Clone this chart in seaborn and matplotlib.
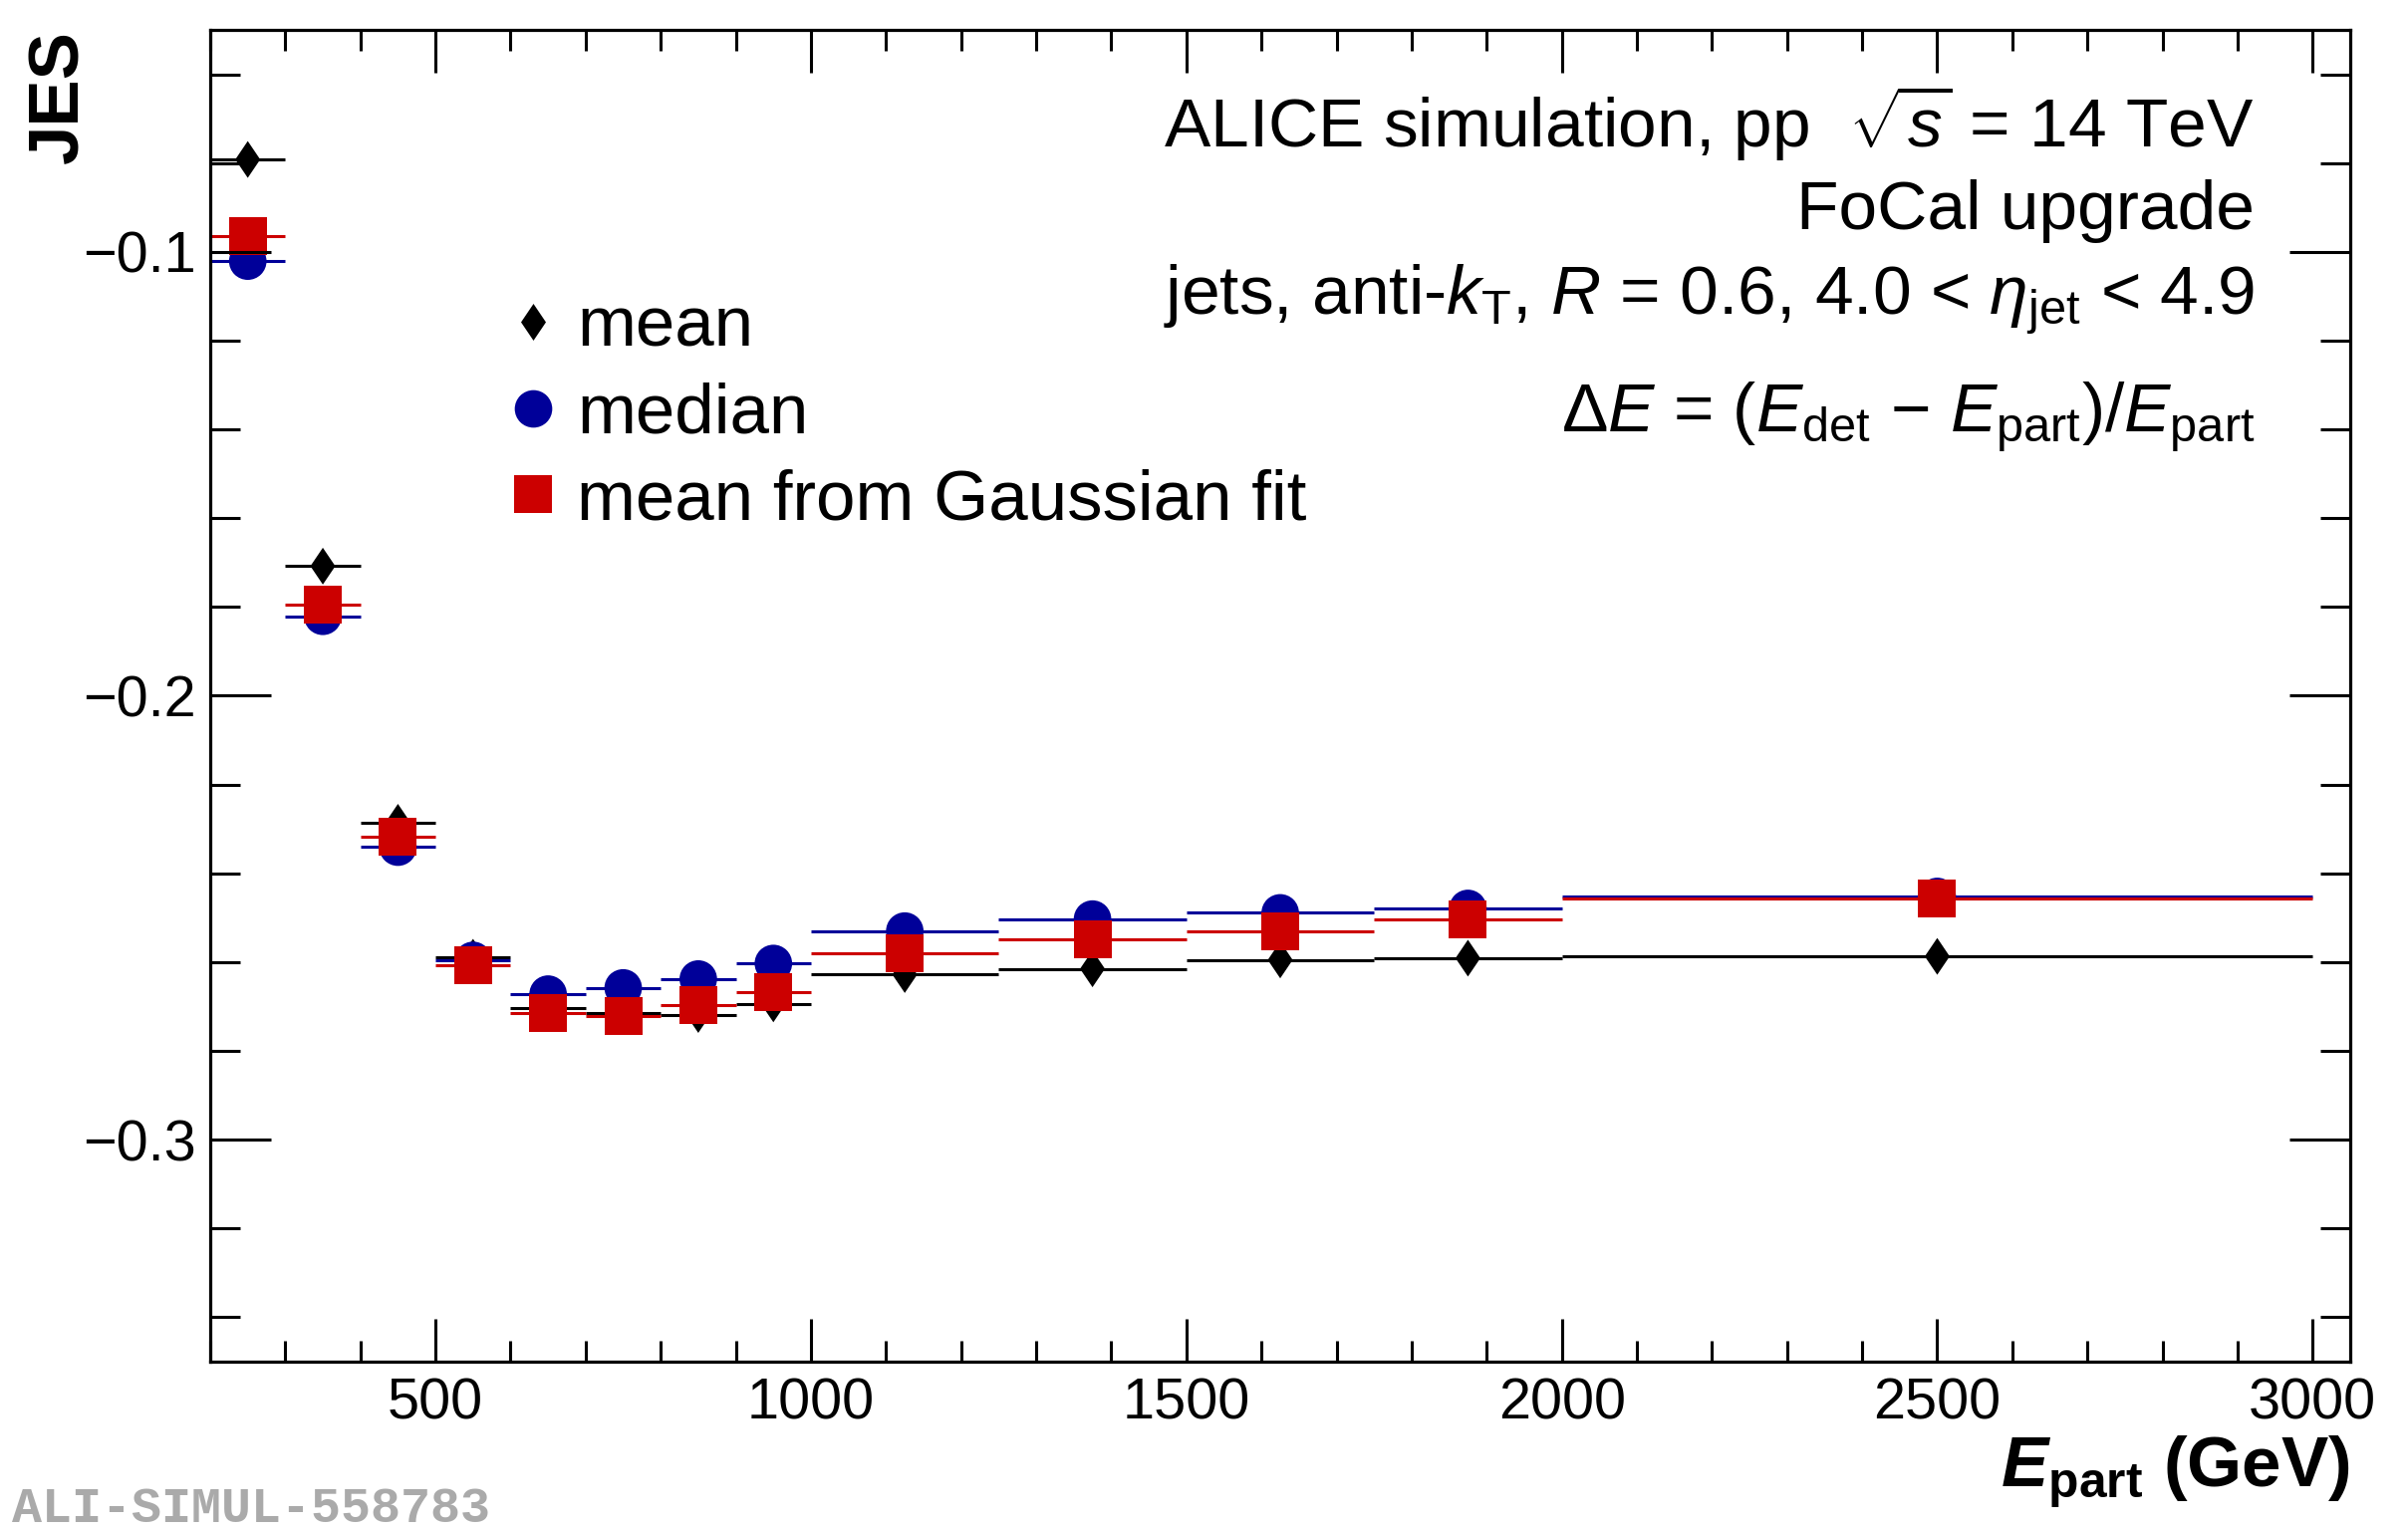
import numpy as np
import pandas as pd
import matplotlib
matplotlib.use("Agg")
import matplotlib.pyplot as plt
from matplotlib.lines import Line2D
from matplotlib.ticker import MultipleLocator, FuncFormatter
import seaborn as sns

# ---------------- data ----------------
bin_low = [200, 300, 400, 500, 600, 700, 800, 900, 1000, 1250, 1500, 1750, 2000]
bin_high = [300, 400, 500, 600, 700, 800, 900, 1000, 1250, 1500, 1750, 2000, 3000]
jes_mean = [-0.0792, -0.1708, -0.2285, -0.2589, -0.2704, -0.2714, -0.2718,
            -0.2694, -0.2628, -0.2615, -0.2595, -0.2591, -0.2587]
jes_median = [-0.1021, -0.1821, -0.2341, -0.2596, -0.2672, -0.2658, -0.2638,
              -0.2603, -0.2530, -0.2503, -0.2489, -0.2479, -0.2452]
jes_gauss = [-0.0964, -0.1794, -0.2318, -0.2606, -0.2715, -0.2722, -0.2697,
             -0.2667, -0.2581, -0.2549, -0.2531, -0.2503, -0.2456]
labels = ["mean", "median", "mean from Gaussian fit"]

lo = np.array(bin_low, float)
hi = np.array(bin_high, float)
centers = 0.5 * (lo + hi)
halfw = 0.5 * (hi - lo)

# ---------------- style ----------------
sns.set_theme(style="ticks")
plt.rcParams["font.family"] = ["Liberation Sans", "DejaVu Sans"]
plt.rcParams.update({
    "mathtext.fontset": "custom",
    "mathtext.rm": "Liberation Sans",
    "mathtext.sf": "Liberation Sans",
    "mathtext.it": "Liberation Sans:italic",
    "mathtext.bf": "Liberation Sans:bold",
    "mathtext.bfit": "Liberation Sans:bold:italic",
    "axes.linewidth": 2.3,
    "axes.edgecolor": "black",
    "text.color": "black",
    "axes.labelcolor": "black",
    "xtick.color": "black",
    "ytick.color": "black",
    "xtick.labelcolor": "black",
    "ytick.labelcolor": "black",
    "legend.labelcolor": "black",
})

BLACK = "#000000"
BLUE = "#000099"
RED = "#cc0000"
# ROOT-like filled diamond (width/height ~ 25/37)
DIAMOND = [(0.0, 1.0), (0.676, 0.0), (0.0, -1.0), (-0.676, 0.0), (0.0, 1.0)]

fig = plt.figure(figsize=(24.17, 15.36), dpi=100)
ax_l, ax_r, ax_b, ax_t = 0.0873, 0.976, 0.110, 0.9805
ax = fig.add_axes([ax_l, ax_b, ax_r - ax_l, ax_t - ax_b])

series = [
    (jes_mean, BLACK, DIAMOND, 708, labels[0]),
    (jes_median, BLUE, "o", 736, labels[1]),
    (jes_gauss, RED, "s", 750, labels[2]),
]
z = 1.1
for vals, col, mk, s, lab in series:
    ax.errorbar(centers, vals, xerr=halfw, fmt="none", ecolor=col,
                elinewidth=2.2, capsize=0, zorder=z)
    df = pd.DataFrame({"E": centers, "JES": vals})
    sns.scatterplot(data=df, x="E", y="JES", ax=ax, marker=mk, s=s,
                    color=col, edgecolor="none", linewidth=0, zorder=z + 0.05,
                    legend=False)
    z += 0.1

ax.set_axisbelow(False)
ax.set_xlim(200, 3050)
ax.set_ylim(-0.35, -0.05)

ax.xaxis.set_major_locator(MultipleLocator(500))
ax.xaxis.set_minor_locator(MultipleLocator(100))
ax.yaxis.set_major_locator(MultipleLocator(0.1))
ax.yaxis.set_minor_locator(MultipleLocator(0.02))
ax.yaxis.set_major_formatter(FuncFormatter(lambda v, p: f"{v:.1f}".replace("-", "\u2212")))
ax.xaxis.set_major_formatter(FuncFormatter(lambda v, p: f"{v:.0f}"))

ax.tick_params(axis="both", which="both", direction="in", top=True, right=True,
               color="black", labelcolor="black", width=2.2)
ax.tick_params(axis="x", which="major", length=31, pad=11, labelsize=41.5)
ax.tick_params(axis="x", which="minor", length=15)
ax.tick_params(axis="y", which="major", length=44, pad=10, labelsize=41.5)
ax.tick_params(axis="y", which="minor", length=21.5)
for sp in ax.spines.values():
    sp.set_visible(True)
    sp.set_linewidth(2.3)
    sp.set_color("black")

# axis titles
ax.set_xlabel(r"$\mathbfit{E}_{\mathbf{part}}$ (GeV)", fontsize=51,
              fontweight="bold", loc="right", va="baseline", color="black")
ax.xaxis.set_label_coords(1.0, -0.0935)
ax.set_ylabel("JES", fontsize=51, fontweight="bold", loc="top", va="baseline",
              color="black")
ax.yaxis.set_label_coords(-0.0619, 1.0)

# legend
handles = [
    Line2D([], [], ls="none", marker=DIAMOND, color=BLACK, markersize=26.6, mew=0),
    Line2D([], [], ls="none", marker="o", color=BLUE, markersize=27.1, mew=0),
    Line2D([], [], ls="none", marker="s", color=RED, markersize=27.4, mew=0),
]
ax.legend(handles, labels, loc="upper left", bbox_to_anchor=(0.1408, 0.8003),
          frameon=False, fontsize=51, handlelength=0.6, handletextpad=0.33,
          labelspacing=0.29, borderpad=0, borderaxespad=0, labelcolor="black")

# annotation text, top right
tx = 0.9553
ax.text(tx, 0.9115, r"ALICE simulation, pp  $\sqrt{s}$ = 14 TeV", transform=ax.transAxes,
        ha="right", va="baseline", fontsize=50, color="black")
ax.text(tx, 0.8504, "FoCal upgrade", transform=ax.transAxes,
        ha="right", va="baseline", fontsize=50, color="black")
ax.text(tx, 0.7868, r"jets, anti-$k_{\mathrm{T}}$, $R$ = 0.6, 4.0 < $\eta_{\mathrm{jet}}$ < 4.9",
        transform=ax.transAxes, ha="right", va="baseline", fontsize=50, color="black")
ax.text(tx, 0.6986, r"$\Delta E$ = ($E_{\mathrm{det}}$ $-$ $E_{\mathrm{part}}$)/$E_{\mathrm{part}}$",
        transform=ax.transAxes, ha="right", va="baseline", fontsize=50, color="black")

# watermark
fig.text(0.005, 0.0055, "ALI-SIMUL-558783", fontsize=36, fontweight="bold",
         family=["Liberation Mono", "DejaVu Sans Mono"], color="#aaaaaa",
         ha="left", va="baseline")

fig.savefig("out.png", dpi=100)
